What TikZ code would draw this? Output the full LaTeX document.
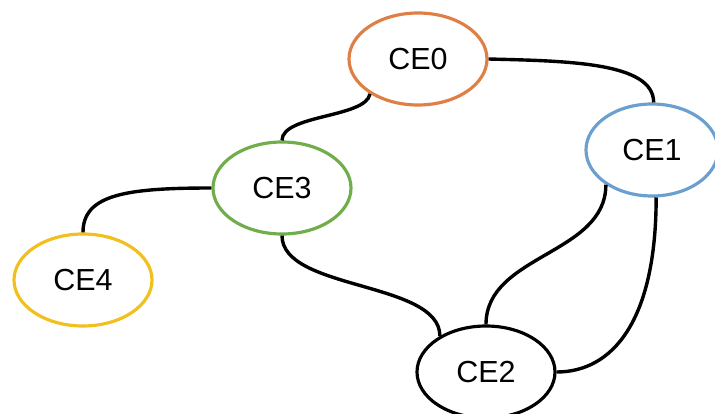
\documentclass[tikz,border=0pt]{standalone}
\usepackage{fontspec}
\setmainfont{Liberation Sans}
\usetikzlibrary{shapes.geometric}
\definecolor{ceorange}{HTML}{E07F45}
\definecolor{ceblue}{HTML}{6A9FCF}
\definecolor{cegreen}{HTML}{72AD4C}
\definecolor{ceyellow}{HTML}{F2C01E}
\begin{document}
\begin{tikzpicture}[x=0.03cm,y=-0.03cm,
  ce/.style={ellipse,draw,line width=2.7pt,fill=white,minimum width=4.14cm,minimum height=2.76cm,inner sep=0pt,font=\fontsize{26}{30}\selectfont},
  link/.style={line width=2.9pt,black}]
\useasboundingbox (0,0) rectangle (715,414);
\node[ce,draw=ceorange] (CE0) at (418,59) {CE0};
\node[ce,draw=ceblue,minimum width=3.96cm] (CE1) at (652,150) {CE1};
\node[ce,draw=cegreen] (CE3) at (282,188) {CE3};
\node[ce,draw=ceyellow] (CE4) at (83,280) {CE4};
\node[ce,draw=black] (CE2) at (486,372) {CE2};
\draw[link] (CE0.east) .. controls +(80,2) and +(0,-40) .. (CE1.88);
\draw[link] (CE0.216) .. controls +(-4,24) and +(0,-26) .. (CE3.north);
\draw[link] (CE3.west) .. controls +(-85,0) and +(0,-38) .. (CE4.north);
\draw[link] (CE3.south) .. controls +(0,55) and +(0,-55) .. (CE2.142);
\draw[link] (CE1.217) .. controls +(0,70) and +(0,-70) .. (CE2.north);
\draw[link] (CE1.275) .. controls +(0,125) and +(55,0) .. (CE2.east);
\end{tikzpicture}
\end{document}
